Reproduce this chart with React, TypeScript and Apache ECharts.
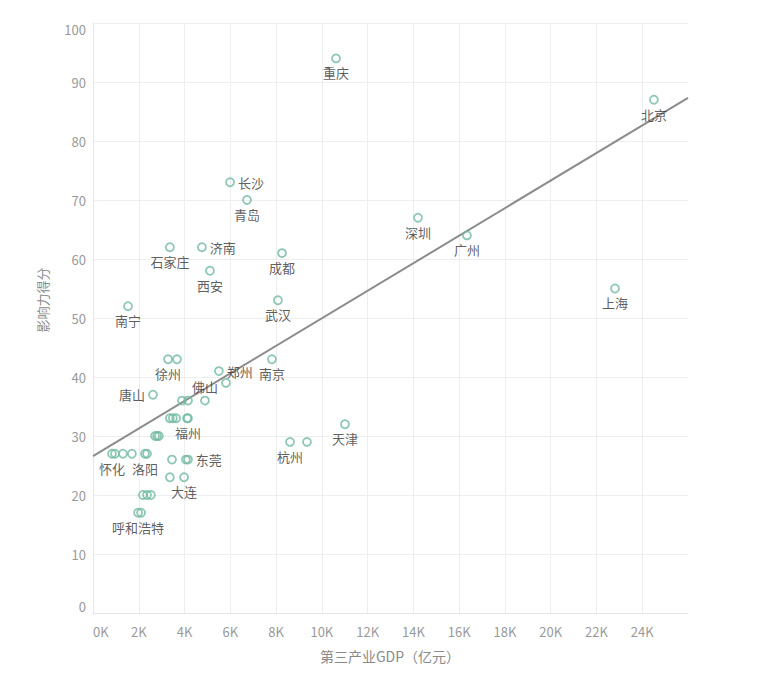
import React, { useEffect, useRef } from "react";
import * as echarts from "echarts";

const cities = [
  "重庆", "北京", "长沙", "青岛", "深圳", "广州", "石家庄", "济南", "成都", "西安",
  "上海", "武汉", "南宁", "徐州", "", "南京", "郑州", "", "唐山", "",
  "", "佛山", "", "", "", "", "福州", "", "", "",
  "怀化", "", "", "", "洛阳", "", "", "", "东莞", "",
  "大连", "", "", "", "呼和浩特", "", "杭州", "", "天津",
];
const gdp = [
  10620, 24510, 5990, 6730, 14200, 16340, 3360, 4760, 8260, 5110,
  22810, 8080, 1530, 3280, 3670, 7820, 5500, 5810, 2620, 3890,
  4150, 4890, 3360, 3490, 3630, 4110, 4150, 2710, 2800, 2880,
  830, 960, 1310, 1700, 2270, 2360, 3450, 4060, 4150, 3360,
  3980, 2180, 2360, 2530, 1970, 2100, 8610, 9350, 11010,
];
const scores = [
  94, 87, 73, 70, 67, 64, 62, 62, 61, 58,
  55, 53, 52, 43, 43, 43, 41, 39, 37, 36,
  36, 36, 33, 33, 33, 33, 33, 30, 30, 30,
  27, 27, 27, 27, 27, 27, 26, 26, 26, 23,
  23, 20, 20, 20, 17, 17, 29, 29, 32,
];
const trendX = [0, 26000];
const trendY = [26.6, 87.3];
const xTicks = [0, 2000, 4000, 6000, 8000, 10000, 12000, 14000, 16000, 18000, 20000, 22000, 24000];

const labelPlacement: Record<string, string> = {
  长沙: "right",
  济南: "right",
  郑州: "right",
  东莞: "right",
  唐山: "left",
  佛山: "top",
};

const FONT = "'Noto Sans CJK SC', 'Noto Sans', sans-serif";
const TEAL = "#72baa2";

export default function App() {
  const ref = useRef<HTMLDivElement>(null);
  useEffect(() => {
    document.body.style.margin = "0";
    if (!ref.current) return;
    const chart = echarts.init(ref.current, null, { renderer: "svg" });
    const points = cities.map((name, i) => ({
      value: [gdp[i], scores[i]],
      name,
      label: {
        show: name !== "",
        position: (labelPlacement[name] || "bottom") as any,
      },
    }));
    chart.setOption({
      animation: false,
      textStyle: { fontFamily: FONT },
      grid: { left: 93, right: 80, top: 23, bottom: 62, containLabel: false, outerBoundsMode: "none" },
      xAxis: {
        type: "value",
        min: 0,
        max: 26000,
        interval: 2000,
        axisLine: { show: true, lineStyle: { color: "#e6e6e6" } },
        axisTick: { show: false },
        splitLine: { show: true, showMaxLine: false, lineStyle: { color: "#eeeeee" } },
        axisLabel: {
          color: "#9a9a9a",
          fontSize: 13,
          fontFamily: FONT,
          margin: 12,
          showMaxLabel: false,
          alignMinLabel: "left",
          formatter: (v: number) => (xTicks.includes(v) ? v / 1000 + "K" : ""),
        },
      },
      yAxis: {
        type: "value",
        min: 0,
        max: 100,
        interval: 10,
        axisLine: { show: true, lineStyle: { color: "#e6e6e6" } },
        axisTick: { show: false },
        splitLine: { show: true, lineStyle: { color: "#eeeeee" } },
        axisLabel: {
          color: "#9a9a9a",
          fontSize: 13,
          fontFamily: FONT,
          margin: 7,
          verticalAlignMaxLabel: "top",
          verticalAlignMinLabel: "bottom",
        },
      },
      graphic: [
        {
          type: "text",
          x: 42,
          y: 300,
          rotation: Math.PI / 2,
          style: {
            text: "影响力得分",
            fill: "#8a8a8a",
            fontSize: 13,
            fontFamily: FONT,
            align: "center",
            verticalAlign: "middle",
          },
        },
        {
          type: "text",
          x: 390,
          y: 656,
          style: {
            text: "第三产业GDP（亿元）",
            fill: "#8a8a8a",
            fontSize: 14,
            fontFamily: FONT,
            align: "center",
            verticalAlign: "middle",
          },
        },
      ],
      series: [
        {
          type: "line",
          data: trendX.map((x, i) => [x, trendY[i]]),
          symbol: "none",
          lineStyle: { color: "#8c8c8c", width: 2 },
          z: 1,
          silent: true,
        },
        {
          type: "scatter",
          data: points,
          symbol: "circle",
          symbolSize: 8,
          itemStyle: { color: "rgba(0,0,0,0)", borderColor: TEAL, borderWidth: 1.8 },
          label: {
            show: true,
            formatter: (p: any) => p.name,
            color: "#333333",
            fontSize: 13,
            fontFamily: FONT,
            distance: 3,
          },
          labelLayout: { hideOverlap: false },
          z: 2,
        },
      ],
    });
    return () => chart.dispose();
  }, []);
  return <div ref={ref} style={{ width: 768, height: 675 }} />;
}
